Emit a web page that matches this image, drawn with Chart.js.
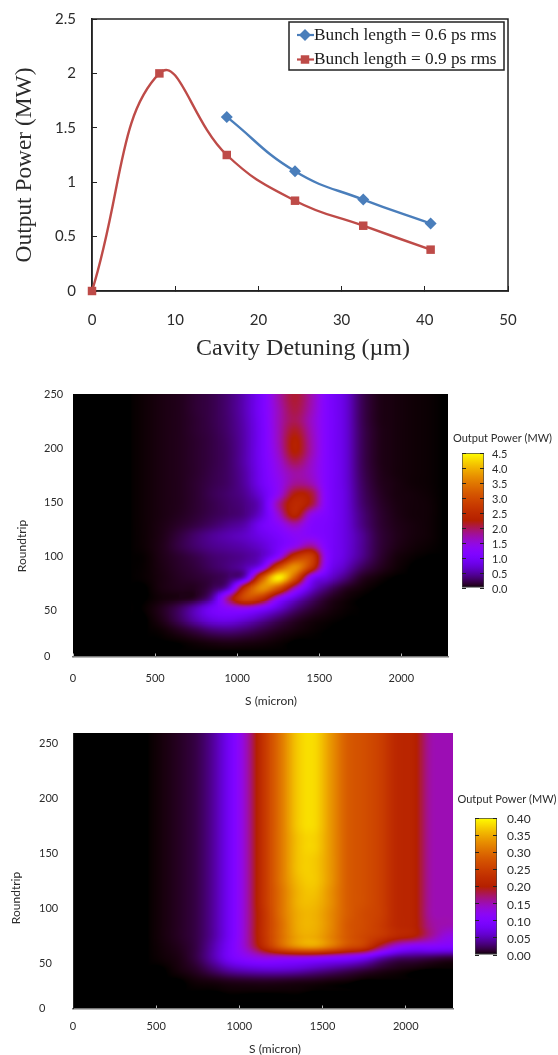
<!DOCTYPE html>
<html><head><meta charset="utf-8">
<script src="https://cdn.jsdelivr.net/npm/chart.js@4"></script>
<style>
html,body{margin:0;padding:0;background:#fff;width:558px;height:1055px;overflow:hidden}
canvas{position:absolute;display:block}
</style></head><body>
<canvas id="lines" width="558" height="370" style="left:0px;top:0px"></canvas>
<canvas id="heatA" width="452" height="330" style="left:0px;top:380px"></canvas>
<canvas id="barA" width="118" height="175" style="left:440px;top:425px"></canvas>
<canvas id="heatB" width="456" height="335" style="left:0px;top:720px"></canvas>
<canvas id="barB" width="118" height="185" style="left:440px;top:785px"></canvas>
<script>
// ---- line chart values
const detuning06 = [16.2, 24.4, 32.6, 40.7];
const power06 = [1.6, 1.1, 0.84, 0.62];
const detuning09 = [0, 8.1, 16.2, 24.4, 32.6, 40.7];
const power09 = [0, 2.0, 1.25, 0.83, 0.6, 0.38];
const seriesNames = ['Bunch length = 0.6 ps rms', 'Bunch length = 0.9 ps rms'];

// ---- heat map values: S cell centres (micron), roundtrip cell centres, power (MW) by row
const sCells = [50,150,250,350,450,550,650,750,850,950,1050,1150,1250,1350,1450,1550,1650,1750,1850,1950,2050,2150,2250];
const roundtripsA = [245,235.3,225.6,215.9,206.2,196.5,186.8,177.1,167.4,157.7,148,138.3,128.6,118.9,109.2,99.5,89.8,80.1,70.4,60.7,51,41.3,31.6,21.9,12.2];
const powerA = [
[0,0,0,0,.02,.05,.08,.15,.22,.35,.6,1.05,1.7,2.1,1.72,1.12,.78,.28,.08,.04,.02,.01,0],
[0,0,0,0,.02,.05,.08,.15,.22,.35,.6,1.05,1.65,2.05,1.68,1.12,.78,.28,.08,.04,.02,.01,0],
[0,0,0,0,.02,.05,.08,.14,.22,.34,.58,1.02,1.65,2.0,1.62,1.12,.78,.28,.08,.04,.02,.01,0],
[0,0,0,0,.02,.05,.08,.14,.21,.33,.56,1.0,1.65,2.15,1.67,1.12,.78,.29,.09,.04,.02,.01,0],
[0,0,0,0,.02,.05,.08,.13,.2,.31,.55,1.0,1.65,2.28,1.72,1.12,.78,.29,.09,.04,.02,.01,0],
[0,0,0,0,.02,.05,.08,.13,.2,.3,.55,1.0,1.6,2.25,1.72,1.12,.78,.29,.09,.04,.02,.01,0],
[0,0,0,0,.02,.05,.08,.13,.2,.3,.55,.98,1.5,2.0,1.62,1.12,.78,.29,.09,.04,.02,.01,0],
[0,0,0,0,.02,.05,.08,.13,.21,.3,.52,.95,1.42,1.75,1.58,1.12,.78,.3,.1,.04,.02,.01,0],
[0,0,0,0,.02,.05,.08,.14,.22,.3,.5,.92,1.35,1.8,1.7,1.12,.78,.32,.11,.05,.02,.01,0],
[0,0,0,0,.02,.05,.08,.14,.24,.32,.45,.8,1.4,2.2,2.1,1.15,.8,.34,.13,.05,.03,.015,0],
[0,0,0,0,.02,.05,.08,.14,.22,.3,.4,.7,1.75,2.45,2.1,1.15,.8,.36,.15,.06,.03,.02,0],
[0,0,0,0,.02,.05,.09,.15,.23,.3,.4,.75,1.55,2.35,1.45,1.1,.8,.4,.17,.07,.03,.02,0],
[0,0,0,0,.02,.06,.12,.2,.3,.42,.55,.95,1.25,1.65,1.2,1.05,.8,.42,.18,.08,.04,.02,0],
[0,0,0,0,.02,.07,.18,.32,.45,.55,.65,.85,1.05,1.3,1.25,1.05,.8,.48,.2,.09,.04,.02,0],
[0,0,0,0,.02,.08,.2,.32,.42,.48,.55,.7,1.0,1.4,1.8,1.1,.8,.48,.2,.08,.03,.01,0],
[0,0,0,0,.01,.07,.14,.22,.32,.38,.45,.65,1.3,2.6,2.8,1.2,.78,.45,.18,.05,.01,0,0],
[0,0,0,0,.01,.06,.12,.18,.28,.38,.55,1.1,2.9,3.7,2.7,1.1,.65,.3,.12,.03,0,0,0],
[0,0,0,0,.01,.05,.1,.14,.2,.32,.75,3.0,4.4,3.2,1.25,.75,.4,.12,.03,0,0,0,0],
[0,0,0,0,0,.05,.08,.1,.25,.7,2.6,3.7,3.1,1.7,.75,.35,.12,.03,0,0,0,0,0],
[0,0,0,0,0,.03,.06,.14,.55,1.9,2.95,2.6,1.4,.75,.35,.12,.03,0,0,0,0,0,0],
[0,0,0,0,.01,.1,.28,.6,1.0,1.25,1.35,1.1,.7,.35,.15,.05,.01,0,0,0,0,0,0],
[0,0,0,0,0,.08,.27,.55,.8,.85,.72,.5,.28,.12,.04,.01,0,0,0,0,0,0,0],
[0,0,0,0,0,.02,.1,.22,.36,.4,.32,.2,.1,.04,.01,0,0,0,0,0,0,0,0],
[0,0,0,0,0,0,.01,.04,.08,.1,.08,.05,.02,0,0,0,0,0,0,0,0,0,0],
[0,0,0,0,0,0,0,0,0,0,0,0,0,0,0,0,0,0,0,0,0,0,0]
];
const roundtripsB = [255,245,235,225,215,205,195,185,175,165,155,145,135,125,115,105,95,85,75,65,55,45,35,25,15];
const powerB = [
[0,0,0,0,0,.004,.01,.02,.045,.09,.155,.24,.31,.37,.38,.335,.285,.27,.25,.215,.205,.155,.15],
[0,0,0,0,0,.004,.01,.02,.045,.09,.155,.24,.31,.37,.38,.335,.285,.27,.25,.215,.205,.155,.15],
[0,0,0,0,0,.004,.01,.02,.045,.09,.155,.24,.31,.37,.38,.335,.285,.27,.25,.215,.205,.155,.15],
[0,0,0,0,0,.004,.01,.02,.045,.09,.155,.24,.31,.37,.38,.335,.285,.27,.25,.215,.205,.155,.15],
[0,0,0,0,0,.004,.01,.02,.045,.09,.155,.24,.31,.37,.38,.335,.285,.27,.25,.215,.205,.155,.15],
[0,0,0,0,0,.004,.01,.02,.045,.09,.155,.24,.31,.37,.38,.335,.285,.27,.25,.215,.205,.155,.15],
[0,0,0,0,0,.004,.01,.02,.045,.09,.155,.24,.31,.37,.38,.335,.285,.27,.25,.215,.205,.155,.15],
[0,0,0,0,0,.004,.01,.02,.045,.09,.155,.24,.31,.37,.38,.335,.285,.27,.25,.215,.205,.155,.15],
[0,0,0,0,0,.004,.01,.02,.045,.09,.155,.24,.31,.37,.38,.335,.285,.27,.25,.215,.205,.155,.15],
[0,0,0,0,0,.004,.01,.02,.045,.09,.155,.24,.31,.365,.375,.335,.285,.27,.25,.215,.205,.155,.15],
[0,0,0,0,0,.004,.01,.02,.045,.09,.155,.24,.31,.365,.375,.335,.285,.27,.25,.215,.205,.155,.15],
[0,0,0,0,0,.004,.01,.02,.045,.09,.155,.24,.31,.365,.37,.335,.285,.27,.25,.215,.205,.155,.15],
[0,0,0,0,0,.004,.01,.02,.045,.09,.155,.24,.31,.365,.37,.335,.285,.27,.25,.215,.205,.155,.15],
[0,0,0,0,0,.004,.01,.02,.045,.09,.155,.24,.31,.36,.37,.335,.285,.27,.25,.215,.205,.155,.15],
[0,0,0,0,0,.004,.01,.02,.045,.09,.155,.24,.305,.355,.365,.33,.285,.27,.25,.215,.205,.155,.15],
[0,0,0,0,0,.004,.01,.02,.045,.09,.155,.24,.305,.355,.36,.33,.285,.27,.25,.215,.205,.155,.15],
[0,0,0,0,0,.004,.01,.02,.045,.09,.155,.235,.305,.35,.355,.325,.285,.265,.25,.215,.205,.155,.15],
[0,0,0,0,0,.004,.01,.02,.045,.09,.155,.235,.3,.35,.355,.325,.28,.265,.245,.215,.205,.16,.15],
[0,0,0,0,0,.004,.01,.02,.045,.09,.155,.235,.3,.345,.35,.32,.28,.26,.24,.215,.2,.16,.13],
[0,0,0,0,0,.003,.008,.02,.05,.095,.15,.22,.285,.325,.335,.305,.265,.24,.175,.125,.105,.105,.1],
[0,0,0,0,0,.002,.006,.02,.05,.09,.115,.13,.13,.13,.125,.115,.105,.085,.05,.03,.025,.02,.015],
[0,0,0,0,0,0,.004,.012,.03,.05,.06,.065,.065,.06,.05,.04,.03,.02,.01,.005,.002,0,0],
[0,0,0,0,0,0,0,.003,.006,.01,.012,.013,.012,.01,.008,.005,.003,0,0,0,0,0,0],
[0,0,0,0,0,0,0,0,0,.001,.001,.001,.001,.001,0,0,0,0,0,0,0,0,0],
[0,0,0,0,0,0,0,0,0,0,0,0,0,0,0,0,0,0,0,0,0,0,0]
];

// ---- tick labels
const sTicks = [0,500,1000,1500,2000];
const roundTicks = [50,100,150,200,250];
const scaleTicksA = [0,.5,1,1.5,2,2.5,3,3.5,4,4.5];
const scaleTicksB = [0,.05,.1,.15,.2,.25,.3,.35,.4];

const SANS = 'Lato, "Open Sans", sans-serif', SERIF = '"Liberation Serif", serif';
const INK = '#2b2b2b';

function clamp01(x){return Math.max(0,Math.min(1,x));}
// gnuplot default pm3d palette
function palette(x){
  x = clamp01(x);
  return [Math.round(255*Math.sqrt(x)), Math.round(255*x*x*x), Math.round(255*Math.max(0,Math.sin(2*Math.PI*x)))];
}
function cr(p0,p1,p2,p3,t){
  return .5*((2*p1)+(-p0+p2)*t+(2*p0-5*p1+4*p2-p3)*t*t+(-p0+3*p1-3*p2+p3)*t*t*t);
}
function sampleGrid(grid,r,c){
  const R=grid.length,C=grid[0].length;
  const r0=Math.floor(r),c0=Math.floor(c),tr=r-r0,tc=c-c0;
  const at=(i,j)=>grid[Math.max(0,Math.min(R-1,i))][Math.max(0,Math.min(C-1,j))];
  const rows=[];
  for(let i=-1;i<=2;i++) rows.push(cr(at(r0+i,c0-1),at(r0+i,c0),at(r0+i,c0+1),at(r0+i,c0+2),tc));
  const v=cr(rows[0],rows[1],rows[2],rows[3],tr);
  const a=at(r0,c0),b=at(r0,c0+1),d=at(r0+1,c0),e=at(r0+1,c0+1);
  return Math.max(Math.min(a,b,d,e),Math.min(Math.max(a,b,d,e)*1.02,v));
}
function cellStyle(grid,rowsArr,vmax){
  const C=sCells.length;
  return function(ctx){
    const chart=ctx.chart;
    if(ctx.type!=='data'||!chart.chartArea||!chart.scales.x.width) return 'rect';
    const xs=chart.scales.x, ys=chart.scales.y;
    const i=ctx.dataIndex, col=i%C, row=Math.floor(i/C);
    const dx=Math.abs(xs.getPixelForValue(sCells[1])-xs.getPixelForValue(sCells[0]));
    const dy=Math.abs(ys.getPixelForValue(rowsArr[1])-ys.getPixelForValue(rowsArr[0]));
    const w=Math.ceil(dx)+4, h=Math.ceil(dy)+4;
    const cv=document.createElement('canvas'); cv.width=w; cv.height=h;
    const c2=cv.getContext('2d'), img=c2.createImageData(w,h);
    for(let py=0;py<h;py++)for(let px=0;px<w;px++){
      const cc=col+(px+.5-w/2)/dx, rr=row+(py+.5-h/2)/dy;
      const rgb=palette(sampleGrid(grid,rr,cc)/vmax);
      const o=(py*w+px)*4; img.data[o]=rgb[0];img.data[o+1]=rgb[1];img.data[o+2]=rgb[2];img.data[o+3]=255;
    }
    c2.putImageData(img,0,0);
    return cv;
  };
}
function textPlugin(items){
  return {id:'labels',afterDraw(chart){
    const c=chart.ctx;
    items.forEach(t=>{
      c.save();c.translate(t.x,t.y);c.rotate(t.rot||0);c.font=t.font;c.fillStyle=t.color||INK;
      c.textAlign='center';c.textBaseline='middle';c.fillText(t.text,0,0);c.restore();
    });
  }};
}
const blackPlot={id:'blackPlot',beforeDatasetsDraw(chart){
  const a=chart.chartArea,c=chart.ctx;c.save();c.fillStyle='#000';c.fillRect(a.left,a.top,a.width,a.height);c.restore();
}};
function noPad(s){s.paddingTop=0;s.paddingBottom=0;s.paddingLeft=0;s.paddingRight=0;}

// ---- line chart
const frameAndLegend={id:'frameAndLegend',
  beforeDatasetsDraw(chart){
    const a=chart.chartArea,c=chart.ctx;c.save();c.strokeStyle='#222';c.lineWidth=1.5;c.strokeRect(a.left,a.top,a.width,a.height);c.restore();
  },
  afterDraw(chart){
    const c=chart.ctx;c.save();
    c.fillStyle='#fff';c.strokeStyle='#222';c.lineWidth=1.5;c.fillRect(289,22,215,48);c.strokeRect(289,22,215,48);
    chart.data.datasets.forEach((d,i)=>{
      const y=35+i*24.5;
      c.strokeStyle=d.borderColor;c.lineWidth=2.2;c.beginPath();c.moveTo(297,y);c.lineTo(314,y);c.stroke();
      c.fillStyle=d.borderColor;c.strokeStyle=d.borderColor;
      Chart.helpers.drawPoint(c,{pointStyle:d.pointStyle,radius:d.pointRadius,borderWidth:0,rotation:0},305,y);
      c.fillStyle='#1a1a1a';c.font='17.3px '+SERIF;c.textAlign='left';c.textBaseline='middle';c.fillText(d.label,314,y);
    });
    c.restore();
  }};
new Chart(document.getElementById('lines'),{
  type:'scatter',
  data:{datasets:[
    {label:seriesNames[0],data:detuning06.map((x,i)=>({x,y:power06[i]})),showLine:true,tension:.45,borderColor:'#4a7ebb',backgroundColor:'#4a7ebb',borderWidth:2.4,pointStyle:'rectRot',pointRadius:6,pointBorderWidth:0,clip:false},
    {label:seriesNames[1],data:detuning09.map((x,i)=>({x,y:power09[i]})),showLine:true,tension:.45,borderColor:'#be4b48',backgroundColor:'#be4b48',borderWidth:2.4,pointStyle:'rect',pointRadius:6,pointBorderWidth:0,clip:false}
  ]},
  options:{responsive:false,animation:false,devicePixelRatio:1,events:[],
    layout:{autoPadding:false,padding:{top:19,right:50,left:0,bottom:0}},
    plugins:{legend:{display:false},tooltip:{enabled:false}},
    scales:{
      x:{type:'linear',min:0,max:50,afterFit(s){s.height=79;noPad(s);},
        grid:{drawOnChartArea:false,tickLength:-5,color:'#222'},border:{color:'#222',width:1.5},
        ticks:{stepSize:10,padding:25,color:INK,font:{family:SANS,size:15},callback:v=>String(v)}},
      y:{type:'linear',min:0,max:2.5,afterFit(s){s.width=92;noPad(s);},
        grid:{drawOnChartArea:false,tickLength:-5,color:'#222'},border:{color:'#222',width:1.5},
        ticks:{stepSize:.5,padding:21,color:INK,font:{family:SANS,size:15},callback:v=>String(v)}}
    }},
  plugins:[frameAndLegend,textPlugin([
    {text:'Cavity Detuning (\u00b5m)',x:303,y:349,font:'24px '+SERIF},
    {text:'Output Power (MW)',x:25,y:165,rot:-Math.PI/2,font:'23.4px '+SERIF}
  ])]
});

// ---- heat maps
function heat(id,grid,rowsArr,vmax,cfg){
  const pts=[];
  rowsArr.forEach((r,i)=>sCells.forEach((s,j)=>pts.push({x:s,y:r,v:grid[i][j]})));
  new Chart(document.getElementById(id),{
    type:'scatter',
    data:{datasets:[{label:'Output Power (MW)',data:pts,clip:0,pointRadius:1,pointBorderWidth:0,pointStyle:cellStyle(grid,rowsArr,vmax)}]},
    options:{responsive:false,animation:false,devicePixelRatio:1,events:[],
      layout:{autoPadding:false,padding:{top:cfg.top,right:cfg.right,left:cfg.labelLeft,bottom:0}},
      plugins:{legend:{display:false},tooltip:{enabled:false}},
      scales:{
        x:{type:'linear',min:0,max:2284,afterFit(s){s.height=cfg.xh;noPad(s);},
          afterBuildTicks(s){s.ticks=sTicks.map(v=>({value:v}));},
          grid:{drawOnChartArea:false,tickLength:-3,color:'#bbb',z:1},border:{color:'#777',width:1.5,z:1},
          ticks:{padding:cfg.xpad,autoSkip:false,maxRotation:0,color:INK,font:{family:SANS,size:11},callback:v=>String(v)}},
        y:{type:'linear',min:cfg.ymin,max:cfg.ymax,afterFit(s){s.width=73-cfg.labelLeft;noPad(s);},
          afterBuildTicks(s){s.ticks=[{value:cfg.ymin}].concat(roundTicks.map(v=>({value:v})));},
          grid:{display:false},border:{display:cfg.leftLine,color:'#222',z:1},
          ticks:{crossAlign:'far',padding:4,autoSkip:false,color:INK,font:{family:SANS,size:11},
            callback:v=>v===cfg.ymin?'0':String(v)}}
      }},
    plugins:[blackPlot,textPlugin(cfg.labels)]
  });
}
heat('heatA',powerA,roundtripsA,4.5,{top:14,right:4,xh:53.5,xpad:18,labelLeft:44,ymin:7,ymax:250,leftLine:false,labels:[
  {text:'S (micron)',x:271,y:321,font:'12px '+SANS},
  {text:'Roundtrip',x:22,y:166,rot:-Math.PI/2,font:'12px '+SANS}]});
heat('heatB',powerB,roundtripsB,0.4,{top:13,right:3,xh:46.5,xpad:14,labelLeft:39,ymin:9,ymax:259.4,leftLine:true,labels:[
  {text:'S (micron)',x:275,y:329,font:'12px '+SANS},
  {text:'Roundtrip',x:16.5,y:178,rot:-Math.PI/2,font:'12px '+SANS}]});

// ---- colour bars
function colorBar(id,ticksArr,vmax,digits,cfg){
  const fill=ctx=>{
    const ch=ctx.chart; if(!ch.chartArea) return '#000';
    const g=ch.ctx.createLinearGradient(0,ch.scales.y.getPixelForValue(vmax),0,ch.scales.y.getPixelForValue(0));
    for(let i=0;i<=40;i++){const p=palette(1-i/40);g.addColorStop(i/40,`rgb(${p[0]},${p[1]},${p[2]})`);}
    return g;
  };
  const tickOpts={drawOnChartArea:false,tickLength:-4,color:'#222',z:1};
  new Chart(document.getElementById(id),{
    type:'bar',
    data:{labels:['Output Power (MW)'],datasets:[{data:[[0,vmax]],backgroundColor:fill,borderColor:'#444',borderWidth:1,borderSkipped:false,barPercentage:1,categoryPercentage:1}]},
    options:{responsive:false,animation:false,devicePixelRatio:1,events:[],
      layout:{autoPadding:false,padding:{top:cfg.top,bottom:cfg.bottom,left:cfg.left,right:0}},
      plugins:{legend:{display:false},tooltip:{enabled:false}},
      scales:{
        x:{display:false},
        y:{position:'right',min:0,max:vmax,afterFit(s){s.width=cfg.axisW;noPad(s);},
          afterBuildTicks(s){s.ticks=ticksArr.map(v=>({value:v}));},
          grid:tickOpts,border:{display:false},
          ticks:{padding:cfg.pad,autoSkip:false,labelOffset:1,color:INK,font:{family:SANS,size:cfg.size},callback:v=>Number(v).toFixed(digits)}},
        y2:{position:'left',min:0,max:vmax,afterFit(s){s.width=0;noPad(s);},
          afterBuildTicks(s){s.ticks=ticksArr.map(v=>({value:v}));},
          grid:tickOpts,border:{display:false},ticks:{display:false}}
      }},
    plugins:[textPlugin(cfg.labels)]
  });
}
colorBar('barA',scaleTicksA,4.5,1,{top:28,bottom:12,left:22,axisW:74,pad:12,size:11,labels:[{text:'Output Power (MW)',x:62.5,y:13,font:'11px '+SANS}]});
colorBar('barB',scaleTicksB,0.4,2,{top:33,bottom:15,left:35,axisW:61,pad:14,size:12,labels:[{text:'Output Power (MW)',x:67,y:14,font:'11px '+SANS}]});
</script>
</body></html>
